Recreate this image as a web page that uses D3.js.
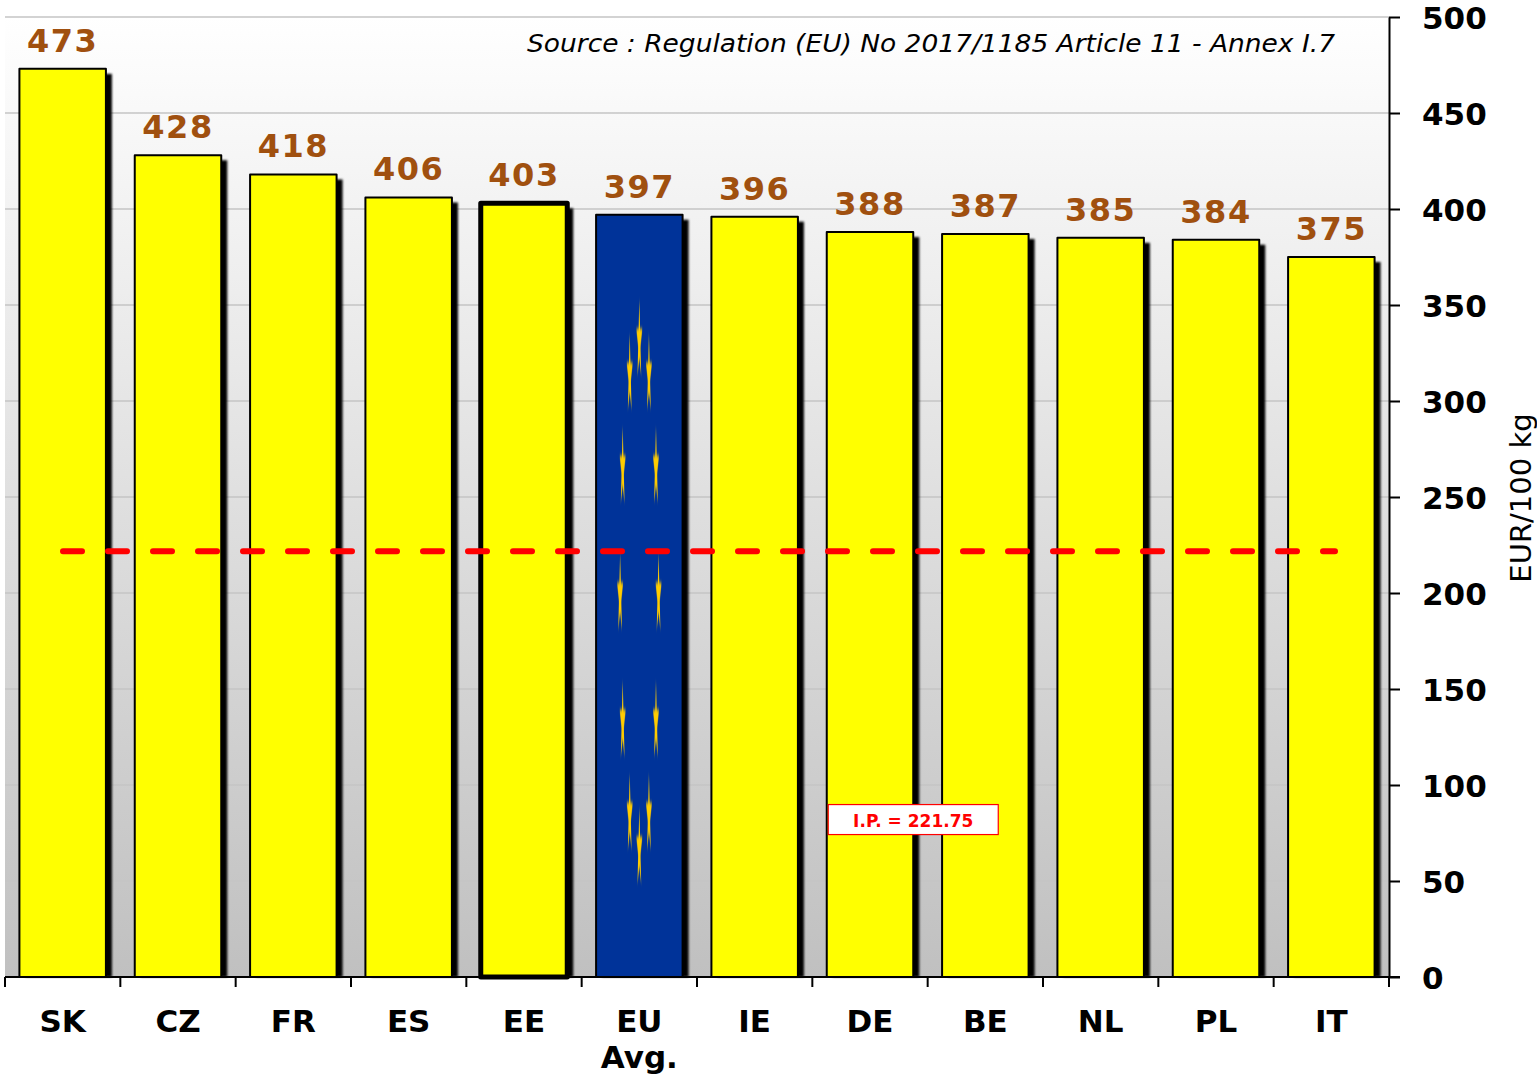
<!DOCTYPE html>
<html>
<head>
<meta charset="utf-8">
<script src="https://cdn.jsdelivr.net/npm/d3@7"></script>
<style>
  html, body { margin: 0; padding: 0; background: #ffffff; }
  svg { display: block; }
  text { font-family: "DejaVu Sans", Verdana, sans-serif; }
</style>
</head>
<body>
<svg id="chart" width="1537" height="1076"></svg>
<script>
// ---- data ----
const categories = ["SK", "CZ", "FR", "ES", "EE", "EU", "IE", "DE", "BE", "NL", "PL", "IT"];
const categoryLabels = [["SK"], ["CZ"], ["FR"], ["ES"], ["EE"], ["EU", "Avg."], ["IE"], ["DE"], ["BE"], ["NL"], ["PL"], ["IT"]];
const values = [473, 428, 418, 406, 403, 397, 396, 388, 387, 385, 384, 375];
const yTicks = [0, 50, 100, 150, 200, 250, 300, 350, 400, 450, 500];
const interventionPrice = 221.75;
const interventionLabel = "I.P. = 221.75";
const highlighted = "EE";
const average = "EU";
const sourceText = "Source : Regulation  (EU) No 2017/1185 Article 11 - Annex I.7";
const yTitle = "EUR/100 kg";

(function () {
// ---- layout ----
const pLeft = 5, pRight = 1389, pTop = 17, pBottom = 977;

const svg = d3.select("#chart");
const defs = svg.append("defs");

const grad = defs.append("linearGradient")
  .attr("id", "bg").attr("x1", 0).attr("y1", 0).attr("x2", 0).attr("y2", 1);
grad.append("stop").attr("offset", "0%").attr("stop-color", "#ffffff");
grad.append("stop").attr("offset", "100%").attr("stop-color", "#c0c0c0");

const blur = defs.append("filter").attr("id", "sh")
  .attr("x", "-20%").attr("y", "-5%").attr("width", "140%").attr("height", "110%");
blur.append("feGaussianBlur").attr("stdDeviation", 1.1);

const starBlur = defs.append("filter").attr("id", "sb")
  .attr("x", "-50%").attr("y", "-20%").attr("width", "200%").attr("height", "140%");
starBlur.append("feGaussianBlur").attr("stdDeviation", "0.5 2");

const x = d3.scaleBand().domain(categories).range([pLeft, pRight])
  .paddingInner(0.25).paddingOuter(0.125);
const y = d3.scaleLinear().domain([0, 500]).range([pBottom, pTop]);

// background
svg.append("rect").attr("x", pLeft).attr("y", pTop)
  .attr("width", pRight - pLeft).attr("height", pBottom - pTop)
  .attr("fill", "url(#bg)");

// gridlines
svg.append("g").selectAll("line").data(yTicks.filter(d => d > 0)).join("line")
  .attr("x1", pLeft).attr("x2", pRight)
  .attr("y1", d => y(d)).attr("y2", d => y(d))
  .attr("stroke", "#c4c4c4").attr("stroke-width", 1.6);

// source
svg.append("text")
  .attr("x", 1335).attr("y", 52)
  .attr("text-anchor", "end")
  .attr("font-size", 25).attr("font-style", "italic")
  .attr("textLength", 808).attr("lengthAdjust", "spacingAndGlyphs")
  .attr("fill", "#000")
  .text(sourceText);

const data = categories.map((c, i) => ({ c, v: values[i], lab: categoryLabels[i] }));

// shadows
svg.append("g").selectAll("rect").data(data).join("rect")
  .attr("x", d => x(d.c) + 6)
  .attr("y", d => y(d.v) + 5)
  .attr("width", x.bandwidth())
  .attr("height", d => pBottom - y(d.v) - 5)
  .attr("fill", "#000")
  .attr("filter", "url(#sh)");

// bars
svg.append("g").selectAll("rect").data(data).join("rect")
  .attr("x", d => x(d.c))
  .attr("y", d => y(d.v))
  .attr("width", x.bandwidth())
  .attr("height", d => pBottom - y(d.v))
  .attr("fill", d => d.c === average ? "#003399" : "#ffff00")
  .attr("stroke", "#000")
  .attr("stroke-linejoin", "round")
  .attr("stroke-width", d => d.c === highlighted ? 5 : 2);

// EU stars (stretched flag)
const eu = data.find(d => d.c === average);
const bx = x(eu.c), bw = x.bandwidth(), by = y(eu.v), bh = pBottom - y(eu.v);
const cx = bx + bw / 2, cy = by + bh / 2;
const starPts = d3.range(10).map(k => {
  const a = -Math.PI / 2 + k * Math.PI / 5;
  const r = k % 2 === 0 ? 1 : 0.382;
  return [Math.cos(a) * r, Math.sin(a) * r];
});
const starD = "M" + starPts.map(p => p.join(",")).join("L") + "Z";
const srY = bh / 18, srX = bw / 27;
svg.append("g").attr("filter", "url(#sb)").selectAll("path").data(d3.range(12)).join("path")
  .attr("d", starD)
  .attr("fill", "#ffcc00")
  .attr("transform", k => {
    const t = k * Math.PI / 6;
    const px = cx + (bw / 4.5) * Math.sin(t);
    const py = cy - (bh / 3) * Math.cos(t);
    return `translate(${px},${py}) scale(${srX},${srY})`;
  });

// value labels
svg.append("g").selectAll("text").data(data).join("text")
  .attr("x", d => x(d.c) + x.bandwidth() / 2)
  .attr("y", d => y(d.v) - 17)
  .attr("text-anchor", "middle")
  .attr("font-size", 32).attr("font-weight", "bold")
  .attr("letter-spacing", 1.5)
  .attr("fill", "#a0500f")
  .text(d => d.v);

// intervention price line
svg.append("line")
  .attr("x1", 63).attr("x2", 1335)
  .attr("y1", y(interventionPrice)).attr("y2", y(interventionPrice))
  .attr("stroke", "#ff0000").attr("stroke-width", 6)
  .attr("stroke-linecap", "round")
  .attr("stroke-dasharray", "19,26");

// I.P. box
const boxCx = x("DE") + x.bandwidth(), boxCy = y(82);
svg.append("rect")
  .attr("x", boxCx - 85).attr("y", boxCy - 15)
  .attr("width", 170).attr("height", 30)
  .attr("fill", "#ffffff").attr("stroke", "#ff0000").attr("stroke-width", 1.2);
svg.append("text")
  .attr("x", boxCx).attr("y", boxCy + 7)
  .attr("text-anchor", "middle")
  .attr("font-size", 17).attr("font-weight", "bold")
  .attr("fill", "#ff0000")
  .text(interventionLabel);

// right axis
const yAxis = d3.axisRight(y).tickValues(yTicks).tickSize(11).tickPadding(22).tickSizeOuter(0);
const gy = svg.append("g").attr("transform", `translate(${pRight},0)`).call(yAxis);
gy.select(".domain").attr("stroke", "#000").attr("stroke-width", 2);
gy.selectAll(".tick line").attr("stroke", "#000").attr("stroke-width", 2);
gy.selectAll(".tick text")
  .attr("font-family", "DejaVu Sans, Verdana, sans-serif")
  .attr("font-size", 31).attr("font-weight", "bold").attr("fill", "#000")
  .attr("x", 33).attr("dy", "0.36em");

// bottom axis
const boundaries = categories.map(c => x(c) - x.step() * x.paddingOuter()).concat([pRight]);
svg.append("line").attr("x1", pLeft).attr("x2", pRight + 11)
  .attr("y1", pBottom).attr("y2", pBottom)
  .attr("stroke", "#000").attr("stroke-width", 2);
svg.append("g").selectAll("line").data(boundaries).join("line")
  .attr("x1", d => d).attr("x2", d => d)
  .attr("y1", pBottom).attr("y2", pBottom + 10)
  .attr("stroke", "#000").attr("stroke-width", 2);

const catG = svg.append("g").selectAll("text").data(data).join("text")
  .attr("text-anchor", "middle")
  .attr("font-size", 31).attr("font-weight", "bold").attr("fill", "#000");
catG.selectAll("tspan").data(d => d.lab.map(l => ({ l, c: d.c }))).join("tspan")
  .attr("x", d => x(d.c) + x.bandwidth() / 2)
  .attr("y", (d, i) => 1032 + i * 36)
  .text(d => d.l);

// y title
svg.append("text")
  .attr("transform", `translate(1531,498) rotate(-90)`)
  .attr("text-anchor", "middle")
  .attr("font-size", 29).attr("fill", "#000")
  .text(yTitle);
})();
</script>
</body>
</html>
